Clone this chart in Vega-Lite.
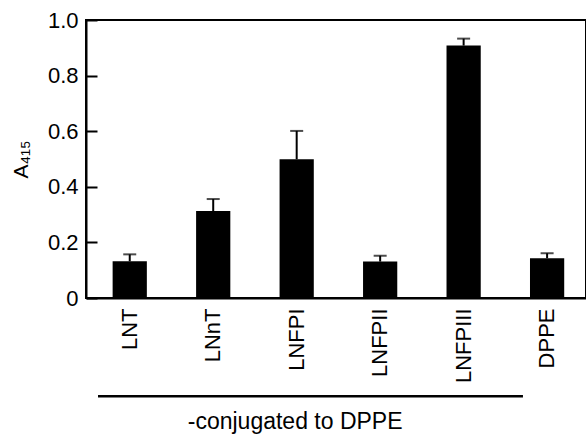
{
  "$schema": "https://vega.github.io/schema/vega-lite/v6.json",
  "autosize": "none",
  "width": 500,
  "height": 278,
  "padding": {"left": 86, "top": 20, "right": 0, "bottom": 136},
  "background": "white",
  "config": {
    "font": "Liberation Sans",
    "view": {"stroke": "black", "strokeWidth": 2},
    "axis": {"grid": false, "domainColor": "black", "domainWidth": 2, "labelColor": "black", "titleColor": "black", "labelFont": "Liberation Sans", "titleFont": "Liberation Sans"}
  },
  "datasets": {
    "bars": [
      {"sample": "LNT", "value": 0.132, "upper": 0.157},
      {"sample": "LNnT", "value": 0.313, "upper": 0.356},
      {"sample": "LNFPI", "value": 0.499, "upper": 0.601},
      {"sample": "LNFPII", "value": 0.131, "upper": 0.152},
      {"sample": "LNFPIII", "value": 0.908, "upper": 0.933},
      {"sample": "DPPE", "value": 0.143, "upper": 0.161}
    ],
    "note": [
      {"x0": -0.384, "x1": 4.712, "xt": 1.98, "yl": -0.353, "yt": -0.446, "label": "-conjugated to DPPE"}
    ]
  },
  "layer": [
    {
      "data": {"name": "bars"},
      "encoding": {
        "x": {
          "field": "sample", "type": "nominal", "sort": null,
          "scale": {"paddingInner": 0.59, "paddingOuter": 0.29, "align": 0.55},
          "axis": {"title": null, "labelAngle": -90, "labelFontSize": 22, "labelPadding": 10, "ticks": false, "labelColor": "black"}
        }
      },
      "layer": [
        {
          "mark": {"type": "bar", "color": "black"},
          "encoding": {
            "y": {
              "field": "value", "type": "quantitative",
              "scale": {"domain": [0, 1], "nice": false},
              "axis": {
                "title": "A₄₁₅", "titleFontSize": 21, "titleFontWeight": "normal", "titleBaseline": "middle", "titleX": -65,
                "values": [0, 0.2, 0.4, 0.6, 0.8, 1.0],
                "labelExpr": "datum.value == 0 ? '0' : format(datum.value, '.1f')",
                "labelFontSize": 22, "tickSize": -11, "tickWidth": 2, "tickColor": "black", "labelPadding": 19
              }
            }
          }
        },
        {
          "mark": {"type": "rule", "color": "black", "strokeWidth": 2},
          "encoding": {
            "y": {"field": "value", "type": "quantitative"},
            "y2": {"field": "upper"}
          }
        },
        {
          "mark": {"type": "tick", "color": "black", "size": 13, "thickness": 2},
          "encoding": {
            "y": {"field": "upper", "type": "quantitative"}
          }
        }
      ]
    },
    {
      "data": {"name": "note"},
      "layer": [
        {
          "mark": {"type": "rule", "color": "black", "strokeWidth": 2.5},
          "encoding": {
            "x": {"field": "x0", "type": "quantitative", "scale": {"domain": [-0.528, 5.468], "nice": false, "zero": false}, "axis": null},
            "x2": {"field": "x1"},
            "y": {"field": "yl", "type": "quantitative"}
          }
        },
        {
          "mark": {"type": "text", "color": "black", "fontSize": 23, "baseline": "middle", "align": "center"},
          "encoding": {
            "x": {"field": "xt", "type": "quantitative", "scale": {"domain": [-0.528, 5.468], "nice": false, "zero": false}, "axis": null},
            "y": {"field": "yt", "type": "quantitative"},
            "text": {"field": "label"}
          }
        }
      ]
    }
  ],
  "resolve": {"scale": {"x": "independent"}}
}
